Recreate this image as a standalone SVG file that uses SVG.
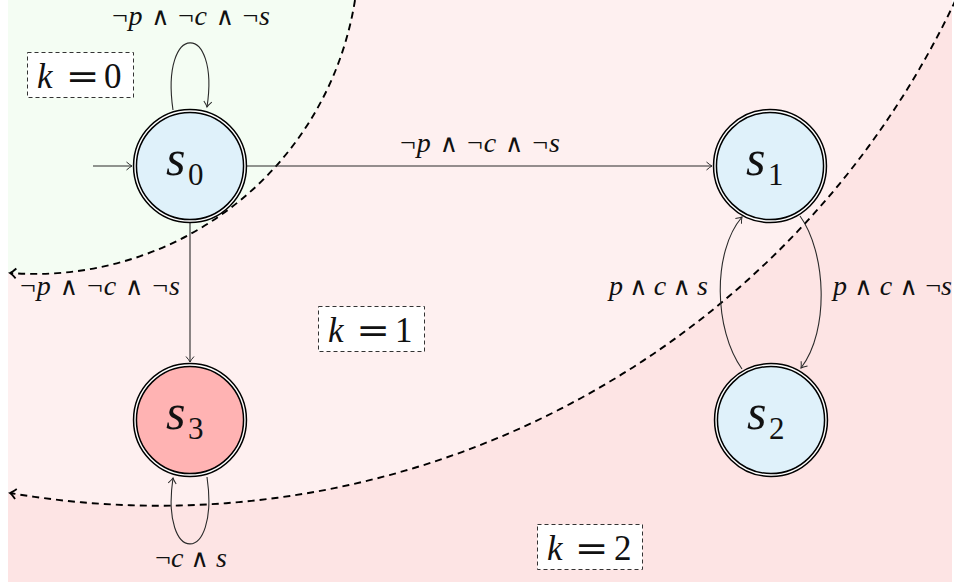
<svg xmlns="http://www.w3.org/2000/svg" width="954" height="585" viewBox="0 0 954 585">
  <style>
    .edge { fill: none; stroke: #2a2a2a; stroke-width: 1.1; }
    .bound { fill: none; stroke: #000; stroke-width: 1.9; stroke-dasharray: 7 5; }
    .ring { stroke: #000; stroke-width: 4.4; }
    .gap { fill: none; stroke: #fff; stroke-width: 1.4; }
    .blue { fill: #dff1fa; }
    .red { fill: #ffb3b3; }
    .lbl { font-family: "Liberation Serif", "DejaVu Serif", serif; font-size: 28px; fill: #111; }
    .i { font-style: italic; }
    .neg { font-family: "Liberation Serif", "DejaVu Serif", serif; font-style: normal; }
    .sym { font-family: "DejaVu Serif", "Liberation Serif", serif; font-style: normal; font-size: 25px; }
    .st { font-family: "Liberation Serif", "DejaVu Serif", serif; fill: #111; }
    .kbox { fill: #fff; stroke: #333; stroke-width: 1; stroke-dasharray: 4 3; }
    .kt { font-family: "Liberation Serif", "DejaVu Serif", serif; font-size: 35px; fill: #111; }
    .eq { font-family: "DejaVu Serif", "Liberation Serif", serif; font-size: 35px; fill: #111; text-anchor: middle; }
  </style>
  <defs>
    <marker id="arr" markerUnits="userSpaceOnUse" markerWidth="12" markerHeight="12" viewBox="-8 -6 10 12" refX="0" refY="0" orient="auto">
      <path d="M -5.5 -4 Q -1.8 -0.8 0 0 Q -1.8 0.8 -5.5 4" fill="none" stroke="#2a2a2a" stroke-width="1"/>
    </marker>
    <marker id="darr" markerUnits="userSpaceOnUse" markerWidth="14" markerHeight="14" viewBox="-9 -7 11 14" refX="0" refY="0" orient="auto">
      <path d="M -6 -5 Q -2 -1 0 0 Q -2 1 -6 5" fill="none" stroke="#000" stroke-width="1.8"/>
    </marker>
    <clipPath id="bgclip"><rect x="8" y="0" width="944" height="582"/></clipPath>
  </defs>

  <!-- regions -->
  <g id="regions" clip-path="url(#bgclip)">
    <rect x="8" y="0" width="944" height="582" fill="#fde4e4"/>
    <path d="M 8 0 L 955.6 0 A 880 880 0 0 1 10 493 L 8 493 Z" fill="#fef0f0"/>
    <path d="M 8 0 L 355 0 A 324.5 324.5 0 0 1 10 273 L 8 273 Z" fill="#f4fdf3"/>
  </g>

  <!-- level boundaries -->
  <g id="boundaries">
    <path class="bound" d="M 355 0 A 324.5 324.5 0 0 1 10 273" marker-end="url(#darr)"/>
    <path class="bound" d="M 955.6 0 A 880 880 0 0 1 10 493" marker-end="url(#darr)"/>
  </g>

  <!-- connectors -->
  <g id="connectors">
    <path class="edge" d="M 93 166 L 132 166" marker-end="url(#arr)"/>
    <path class="edge" d="M 247 166 L 712 166" marker-end="url(#arr)"/>
    <path class="edge" d="M 190 223 L 190 362" marker-end="url(#arr)"/>
    <path class="edge" d="M 173 110 C 160 21, 220 21, 207 107" marker-end="url(#arr)"/>
    <path class="edge" d="M 207 477 C 220 566, 160 566, 173 478" marker-end="url(#arr)"/>
    <path class="edge" d="M 800 216 C 826 252, 830 330, 801 368" marker-end="url(#arr)"/>
    <path class="edge" d="M 742 369 C 714 330, 712 252, 742 217" marker-end="url(#arr)"/>

    <text class="lbl" x="112" y="25" textLength="158" lengthAdjust="spacing"><tspan class="neg">¬</tspan><tspan class="i">p</tspan> <tspan class="sym">∧</tspan> <tspan class="neg">¬</tspan><tspan class="i">c</tspan> <tspan class="sym">∧</tspan> <tspan class="neg">¬</tspan><tspan class="i">s</tspan></text>
    <text class="lbl" x="400" y="152" textLength="160" lengthAdjust="spacing"><tspan class="neg">¬</tspan><tspan class="i">p</tspan> <tspan class="sym">∧</tspan> <tspan class="neg">¬</tspan><tspan class="i">c</tspan> <tspan class="sym">∧</tspan> <tspan class="neg">¬</tspan><tspan class="i">s</tspan></text>
    <text class="lbl" x="20" y="295" textLength="160" lengthAdjust="spacing"><tspan class="neg">¬</tspan><tspan class="i">p</tspan> <tspan class="sym">∧</tspan> <tspan class="neg">¬</tspan><tspan class="i">c</tspan> <tspan class="sym">∧</tspan> <tspan class="neg">¬</tspan><tspan class="i">s</tspan></text>
    <text class="lbl" x="609" y="295" textLength="99" lengthAdjust="spacing"><tspan class="i">p</tspan> <tspan class="sym">∧</tspan> <tspan class="i">c</tspan> <tspan class="sym">∧</tspan> <tspan class="i">s</tspan></text>
    <text class="lbl" x="833" y="295" textLength="119" lengthAdjust="spacing"><tspan class="i">p</tspan> <tspan class="sym">∧</tspan> <tspan class="i">c</tspan> <tspan class="sym">∧</tspan> <tspan class="neg">¬</tspan><tspan class="i">s</tspan></text>
    <text class="lbl" x="155" y="567" textLength="72" lengthAdjust="spacing"><tspan class="neg">¬</tspan><tspan class="i">c</tspan> <tspan class="sym">∧</tspan> <tspan class="i">s</tspan></text>
  </g>

  <!-- states -->
  <g id="s0">
    <circle class="ring blue" cx="190" cy="166" r="55"/>
    <circle class="gap" cx="190" cy="166" r="55"/>
    <text class="st i" x="166" y="175" font-size="50">s</text>
    <text class="st" x="188" y="185" font-size="31">0</text>
  </g>
  <g id="s1">
    <circle class="ring blue" cx="770" cy="166" r="55"/>
    <circle class="gap" cx="770" cy="166" r="55"/>
    <text class="st i" x="746" y="175" font-size="50">s</text>
    <text class="st" x="768" y="185" font-size="31">1</text>
  </g>
  <g id="s2">
    <circle class="ring blue" cx="771" cy="420" r="55"/>
    <circle class="gap" cx="771" cy="420" r="55"/>
    <text class="st i" x="747" y="429" font-size="50">s</text>
    <text class="st" x="769" y="439" font-size="31">2</text>
  </g>
  <g id="s3">
    <circle class="ring red" cx="190" cy="420" r="55"/>
    <circle class="gap" cx="190" cy="420" r="55"/>
    <text class="st i" x="166" y="429" font-size="50">s</text>
    <text class="st" x="188" y="439" font-size="31">3</text>
  </g>

  <!-- level labels -->
  <g id="k0">
    <rect class="kbox" x="27.5" y="52.5" width="106" height="45"/>
    <text class="kt i" x="37" y="88">k</text>
    <text class="eq" transform="translate(82.5 88) scale(1.15 1)">=</text>
    <text class="kt" x="104" y="88">0</text>
  </g>
  <g id="k1">
    <rect class="kbox" x="318.5" y="306.5" width="106" height="45"/>
    <text class="kt i" x="328" y="342">k</text>
    <text class="eq" transform="translate(373 342) scale(1.15 1)">=</text>
    <text class="kt" x="395" y="342">1</text>
  </g>
  <g id="k2">
    <rect class="kbox" x="537.5" y="524.5" width="105" height="45"/>
    <text class="kt i" x="547" y="560">k</text>
    <text class="eq" transform="translate(591.5 560) scale(1.15 1)">=</text>
    <text class="kt" x="614" y="560">2</text>
  </g>
</svg>
